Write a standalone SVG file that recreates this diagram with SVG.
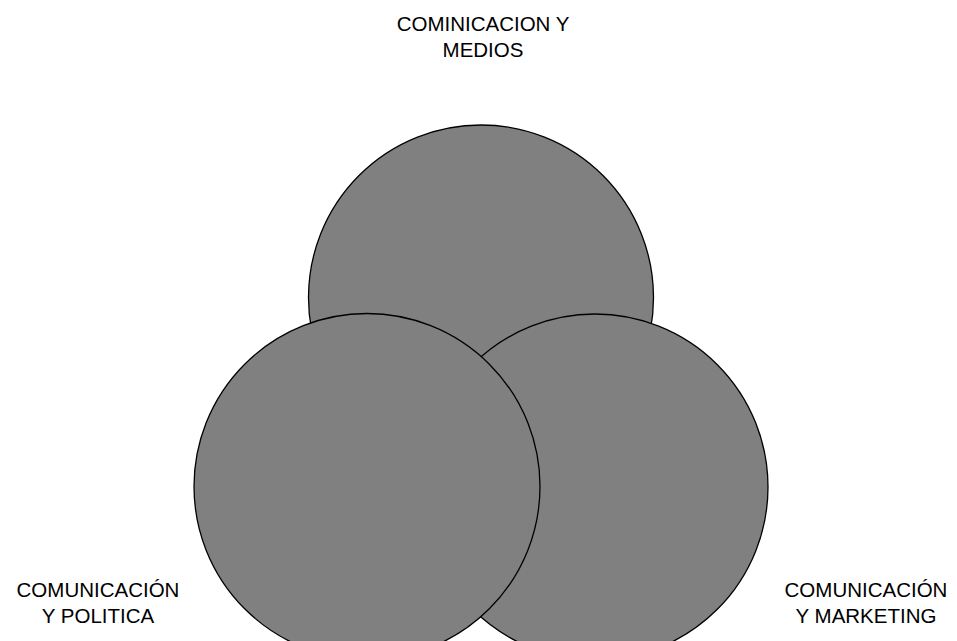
<svg xmlns="http://www.w3.org/2000/svg" width="957" height="641" viewBox="0 0 957 641">
<style>
.c{fill:#808080;stroke:#000;stroke-width:1.3}
.t{font-family:"Liberation Sans",Arial,sans-serif;font-size:20.5px;fill:#000;text-anchor:middle}
</style>
<rect width="957" height="641" fill="#fff"/>
<g id="medios"><circle class="c" cx="481" cy="297.5" r="172.5"/></g>
<g id="marketing"><circle class="c" cx="595" cy="487" r="173"/></g>
<g id="politica"><circle class="c" cx="367" cy="486.5" r="173"/></g>
<g id="connectors"></g>
<g id="label-medios"><text class="t" x="483" y="31">COMINICACION Y</text><text class="t" x="483" y="57">MEDIOS</text></g>
<g id="label-politica"><text class="t" x="98" y="597">COMUNICACIÓN</text><text class="t" x="98" y="623">Y POLITICA</text></g>
<g id="label-marketing"><text class="t" x="866" y="597">COMUNICACIÓN</text><text class="t" x="866" y="623">Y MARKETING</text></g>
</svg>
